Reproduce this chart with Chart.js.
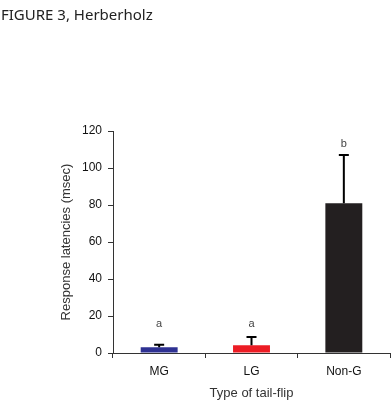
<!DOCTYPE html>
<html>
<head>
<meta charset="utf-8">
<script src="https://cdn.jsdelivr.net/npm/chart.js@4"></script>
<style>
  html, body { margin: 0; padding: 0; background: #fff; }
  #wrap { width: 391px; height: 406px; position: relative; }
</style>
</head>
<body>
<div id="wrap"><canvas id="myChart" width="391" height="406"></canvas></div>
<script>
// dados do gráfico
const categories = ['MG', 'LG', 'Non-G'];
const latencies = [3.1, 4.2, 81];
const errorsUp = [1.3, 4.5, 26];
const letters = ['a', 'a', 'b'];
const letterLevels = [15.7, 15.7, 113];
const barColors = ['#2e3192', '#ec1c24', '#231f20'];
const yTicks = [0, 20, 40, 60, 80, 100, 120];

// barras de erro e letras
const errorBars = {
    id: 'errorBars',
    afterDatasetsDraw(chart) {
        const ctx = chart.ctx;
        const meta = chart.getDatasetMeta(0);
        const y = chart.scales.y;
        ctx.save();
        ctx.strokeStyle = '#000';
        ctx.lineWidth = 2;
        meta.data.forEach((bar, i) => {
            const top = y.getPixelForValue(latencies[i] + errorsUp[i]);
            const base = y.getPixelForValue(latencies[i]);
            ctx.beginPath();
            ctx.moveTo(bar.x, base);
            ctx.lineTo(bar.x, top);
            ctx.moveTo(bar.x - 5, top);
            ctx.lineTo(bar.x + 5, top);
            ctx.stroke();
        });
        ctx.fillStyle = '#444';
        ctx.font = '11px "Liberation Sans", Arial, sans-serif';
        ctx.textAlign = 'center';
        ctx.textBaseline = 'middle';
        meta.data.forEach((bar, i) => {
            ctx.fillText(letters[i], bar.x, y.getPixelForValue(letterLevels[i]));
        });
        ctx.restore();
    }
};

// título da figura
const figTitle = {
    id: 'figTitle',
    afterDraw(chart) {
        const ctx = chart.ctx;
        ctx.save();
        ctx.fillStyle = '#222';
        ctx.font = '15px "Noto Sans", "Open Sans", sans-serif';
        ctx.textAlign = 'left';
        ctx.textBaseline = 'alphabetic';
        ctx.fillText('FIGURE 3, Herberholz', 1, 20);
        ctx.restore();
    }
};

const ctx = document.getElementById('myChart').getContext('2d');
new Chart(ctx, {
    type: 'bar',
    data: {
        labels: categories,
        datasets: [{
            data: latencies,
            backgroundColor: barColors,
            borderWidth: 0,
            barPercentage: 0.4,
            categoryPercentage: 1
        }]
    },
    options: {
        responsive: false,
        animation: false,
        layout: { padding: { top: 131, right: 1, bottom: 0, left: 0 } },
        plugins: { legend: { display: false }, tooltip: { enabled: false } },
        scales: {
            x: {
                grid: { drawOnChartArea: false, offset: true, tickLength: 5, color: '#333' },
                border: { color: '#333', width: 1 },
                ticks: { color: '#111', padding: 6, font: { size: 12, family: '"Liberation Sans", Arial, sans-serif' } },
                title: {
                    display: true, text: 'Type of tail-flip', color: '#333',
                    font: { size: 13, family: '"Liberation Sans", Arial, sans-serif' },
                    padding: { top: 0, bottom: 5 }
                },
                afterFit(scale) { scale.height = 53; }
            },
            y: {
                min: 0, max: 120,
                grid: { drawOnChartArea: false, tickLength: 5, color: '#333' },
                border: { color: '#333', width: 1 },
                afterBuildTicks(scale) { scale.ticks = yTicks.map(v => ({ value: v })); },
                ticks: { color: '#111', padding: 6, font: { size: 12, family: '"Liberation Sans", Arial, sans-serif' } },
                title: {
                    display: true, text: 'Response latencies (msec)', color: '#333',
                    font: { size: 13, family: '"Liberation Sans", Arial, sans-serif' },
                    padding: { top: 59, bottom: 0 }
                },
                afterFit(scale) { scale.width = 113; }
            }
        }
    },
    plugins: [errorBars, figTitle]
});
</script>
</body>
</html>
